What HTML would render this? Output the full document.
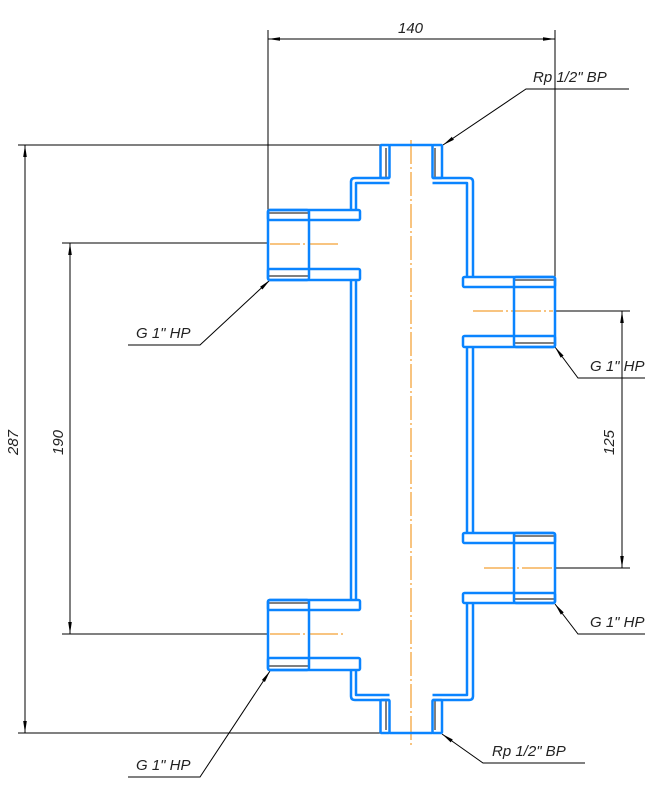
<!DOCTYPE html>
<html><head><meta charset="utf-8"><style>
html,body{margin:0;padding:0;background:#fff;}
svg{display:block;}
text{font-family:"Liberation Sans",sans-serif;font-style:italic;font-size:15px;fill:#222;}
</style></head><body>
<svg width="665" height="790" viewBox="0 0 665 790" xmlns="http://www.w3.org/2000/svg">
<defs>
<marker id="a" markerWidth="12" markerHeight="6" refX="12" refY="3" orient="auto" markerUnits="userSpaceOnUse">
<path d="M0,1.2 L12,3 L0,4.8 Z" fill="#000"/></marker>
</defs>
<!-- center lines -->
<g stroke="#f08a00" stroke-width="1" fill="none">
<line x1="411" y1="140" x2="411" y2="748" stroke-dasharray="24,3,2,3"/>
<line x1="270" y1="244" x2="340" y2="244" stroke-dasharray="30,3,2,3"/>
<line x1="473" y1="311" x2="553" y2="311" stroke-dasharray="30,3,2,3"/>
<line x1="484" y1="568" x2="553" y2="568" stroke-dasharray="30,3,2,3"/>
<line x1="270" y1="634" x2="343" y2="634" stroke-dasharray="30,3,2,3"/>
</g>
<!-- black dims -->
<g stroke="#000" stroke-width="1" fill="none">
<line x1="268" y1="30" x2="268" y2="210"/>
<line x1="555" y1="30" x2="555" y2="277"/>
<line x1="268" y1="39" x2="555" y2="39" marker-end="url(#a)"/>
<line x1="555" y1="39" x2="268" y2="39" marker-end="url(#a)"/>
<line x1="18" y1="145" x2="380" y2="145"/>
<line x1="18" y1="733" x2="380" y2="733"/>
<line x1="25" y1="145" x2="25" y2="733" marker-end="url(#a)"/>
<line x1="25" y1="733" x2="25" y2="145" marker-end="url(#a)"/>
<line x1="62" y1="243" x2="268" y2="243"/>
<line x1="62" y1="634" x2="268" y2="634"/>
<line x1="70" y1="243" x2="70" y2="634" marker-end="url(#a)"/>
<line x1="70" y1="634" x2="70" y2="243" marker-end="url(#a)"/>
<line x1="555" y1="311" x2="630" y2="311"/>
<line x1="555" y1="568" x2="630" y2="568"/>
<line x1="622" y1="311" x2="622" y2="568" marker-end="url(#a)"/>
<line x1="622" y1="568" x2="622" y2="311" marker-end="url(#a)"/>
<!-- leaders -->
<polyline points="629,89 526,89 443,145" marker-end="url(#a)"/>
<polyline points="128,345 200,345 270,280" marker-end="url(#a)"/>
<polyline points="645,378 578,378 555,347" marker-end="url(#a)"/>
<polyline points="645,634 578,634 555,604" marker-end="url(#a)"/>
<polyline points="128,777 200,777 270,671" marker-end="url(#a)"/>
<polyline points="585,763 483,763 442,734" marker-end="url(#a)"/>
<!-- thread lines -->
<line x1="268" y1="213" x2="309" y2="213"/>
<line x1="268" y1="276" x2="309" y2="276"/>
<line x1="268" y1="603" x2="309" y2="603"/>
<line x1="268" y1="666" x2="309" y2="666"/>
<line x1="514" y1="280" x2="555" y2="280"/>
<line x1="514" y1="343" x2="555" y2="343"/>
<line x1="514" y1="536" x2="555" y2="536"/>
<line x1="514" y1="599" x2="555" y2="599"/>
<line x1="386" y1="148" x2="386" y2="178"/>
<line x1="435" y1="148" x2="435" y2="178"/>
<line x1="386" y1="700" x2="386" y2="730"/>
<line x1="435" y1="700" x2="435" y2="730"/>
</g>
<!-- blue body -->
<g stroke="#0a84ff" stroke-width="2.5" fill="none" stroke-linejoin="round">
<rect x="380.5" y="145" width="9" height="33" rx="1"/>
<rect x="432.5" y="145" width="9.5" height="33" rx="1"/>
<line x1="389.5" y1="145" x2="432.5" y2="145"/>
<rect x="380.5" y="700" width="9" height="33" rx="1"/>
<rect x="432.5" y="700" width="9.5" height="33" rx="1"/>
<line x1="389.5" y1="733" x2="432.5" y2="733"/>
<!-- left tube -->
<path d="M389.5,178 H355 Q351,178 351,182 V210"/>
<path d="M389.5,183 H356 V210"/>
<path d="M351,280 V600 M356,280 V600"/>
<path d="M351,670 V696 Q351,700 355,700 H389.5"/>
<path d="M356,670 V695 H389.5"/>
<!-- right tube -->
<path d="M432.5,178 H469 Q473,178 473,182 V277"/>
<path d="M432.5,183 H467 V277"/>
<path d="M467,347 V533 M473,347 V533"/>
<path d="M473,603 V696 Q473,700 469,700 H432.5"/>
<path d="M467,603 V695 H432.5"/>
<!-- left studs -->
<rect x="268" y="210" width="92" height="10" rx="1.5"/>
<rect x="268" y="269" width="92" height="11" rx="1.5"/>
<rect x="268" y="210" width="41" height="70" rx="2"/>
<rect x="268" y="600" width="92" height="10" rx="1.5"/>
<rect x="268" y="658" width="92" height="12" rx="1.5"/>
<rect x="268" y="600" width="41" height="70" rx="2"/>
<!-- right studs -->
<rect x="463" y="277" width="92" height="10" rx="1.5"/>
<rect x="463" y="336" width="92" height="11" rx="1.5"/>
<rect x="514" y="277" width="41" height="70" rx="2"/>
<rect x="463" y="533" width="92" height="10" rx="1.5"/>
<rect x="463" y="593" width="92" height="10" rx="1.5"/>
<rect x="514" y="533" width="41" height="70" rx="2"/>
</g>
<!-- labels -->
<text x="398" y="33">140</text>
<text transform="translate(18,455) rotate(-90)">287</text>
<text transform="translate(63,455) rotate(-90)">190</text>
<text transform="translate(614,455) rotate(-90)">125</text>
<text x="533" y="82">Rp 1/2" BP</text>
<text x="136" y="338">G 1" HP</text>
<text x="590" y="371">G 1" HP</text>
<text x="590" y="627">G 1" HP</text>
<text x="136" y="770">G 1" HP</text>
<text x="492" y="756">Rp 1/2" BP</text>
</svg>
</body></html>
